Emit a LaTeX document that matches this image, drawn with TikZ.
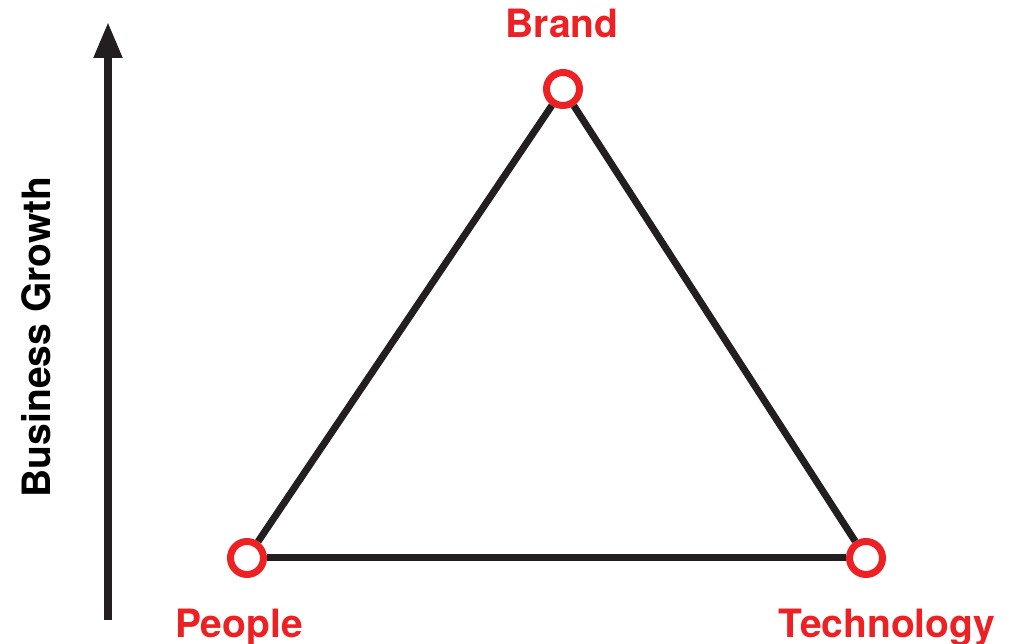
\documentclass[tikz,border=0pt]{standalone}
\usepackage{fontspec}
\setmainfont{TeX Gyre Heros}
\usetikzlibrary{arrows.meta}
\definecolor{brandred}{RGB}{237,32,36}
\definecolor{inkblack}{RGB}{35,31,32}
\tikzset{
  corner/.style={circle,draw=brandred,line width=7pt,fill=white,
                 minimum size=33pt,inner sep=0pt},
  side/.style={inkblack,line width=7pt},
  tag/.style={text=brandred,font=\bfseries\fontsize{39}{39}\selectfont,
              anchor=base,inner sep=0pt}
}
\begin{document}
\begin{tikzpicture}[x=1pt,y=1pt]
  \useasboundingbox (0,0) rectangle (1010,644);
  % growth axis
  \coordinate (axis low) at (108,24);
  \coordinate (axis high) at (108,622);
  \draw[inkblack,line width=8pt,-{Triangle[width=27pt,length=36pt]}]
       (axis low) -- (axis high);
  \node[rotate=90,anchor=base,inner sep=0pt,text=black,
        font=\bfseries\fontsize{39}{39}\selectfont] (growth) at (50,307) {Business Growth};
  % triangle
  \node[corner] (people) at (247,86) {};
  \node[corner] (tech) at (866,86) {};
  \node[corner] (brand) at (563,555) {};
  \draw[side] (people) -- (brand);
  \draw[side] (brand) -- (tech);
  \draw[side] (tech) -- (people);
  % labels
  \node[tag] (brandtag) at (562,606) {Brand};
  \node[tag] (peopletag) at (239,6) {People};
  \node[tag] (techtag) at (887,6) {Technology};
\end{tikzpicture}
\end{document}
